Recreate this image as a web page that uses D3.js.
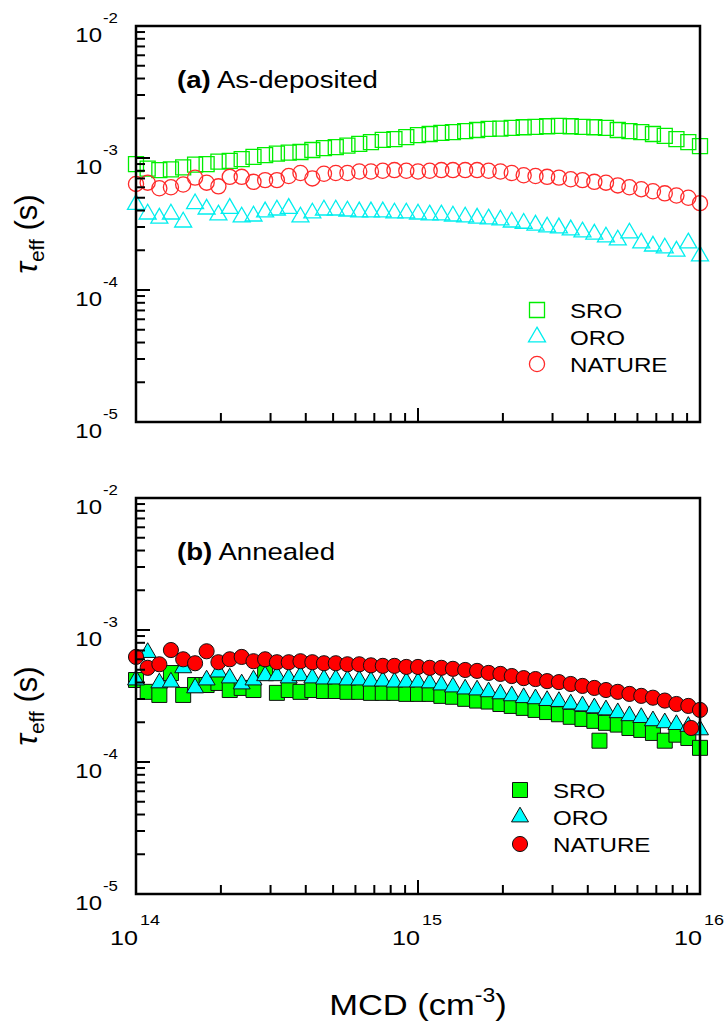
<!DOCTYPE html>
<html>
<head>
<meta charset="utf-8">
<script src="https://cdn.jsdelivr.net/npm/d3@7"></script>
<style>
  body { margin: 0; background: #fff; }
  svg { display: block; }
  text { font-family: Arial, "Liberation Sans", sans-serif; fill: #000; }
</style>
</head>
<body>
<svg id="chart" width="725" height="1025"></svg>
<script>
// τ_eff vs minority carrier density — (a) as-deposited, (b) annealed

// ── Data ────────────────────────────────────────────────────────────────────
const MCD = [
    1.00e14, 1.10e14, 1.21e14, 1.33e14, 1.47e14, 1.62e14, 1.78e14, 1.96e14, 2.15e14, 2.37e14, 2.61e14, 2.87e14,
    3.16e14, 3.48e14, 3.83e14, 4.22e14, 4.64e14, 5.11e14, 5.62e14, 6.19e14, 6.81e14, 7.50e14, 8.25e14, 9.09e14,
    1.00e15, 1.10e15, 1.21e15, 1.33e15, 1.47e15, 1.62e15, 1.78e15, 1.96e15, 2.15e15, 2.37e15, 2.61e15, 2.87e15,
    3.16e15, 3.48e15, 3.83e15, 4.22e15, 4.64e15, 5.11e15, 5.62e15, 6.19e15, 6.81e15, 7.50e15, 8.25e15, 9.09e15,
    1.00e16
];

// (a) as-deposited, seconds
const SRO_A = [
    9.0e-4, 8.3e-4, 8.1e-4, 8.2e-4, 8.5e-4, 8.9e-4, 9.0e-4, 9.4e-4, 9.5e-4, 9.8e-4,
    1.02e-3, 1.05e-3, 1.08e-3, 1.10e-3, 1.11e-3, 1.15e-3, 1.19e-3, 1.21e-3, 1.24e-3, 1.28e-3,
    1.32e-3, 1.37e-3, 1.39e-3, 1.44e-3, 1.49e-3, 1.52e-3, 1.55e-3, 1.57e-3, 1.60e-3, 1.63e-3,
    1.66e-3, 1.67e-3, 1.69e-3, 1.71e-3, 1.72e-3, 1.74e-3, 1.75e-3, 1.74e-3, 1.72e-3, 1.71e-3,
    1.69e-3, 1.63e-3, 1.60e-3, 1.57e-3, 1.52e-3, 1.47e-3, 1.39e-3, 1.32e-3, 1.23e-3
];
const ORO_A = [
    4.45e-4, 3.76e-4, 3.50e-4, 3.76e-4, 3.27e-4, 4.50e-4, 4.10e-4, 3.70e-4, 4.15e-4, 3.57e-4,
    3.63e-4, 3.90e-4, 4.03e-4, 4.15e-4, 3.57e-4, 3.83e-4, 4.03e-4, 4.03e-4, 3.96e-4, 3.90e-4,
    3.90e-4, 3.90e-4, 3.83e-4, 3.83e-4, 3.76e-4, 3.70e-4, 3.70e-4, 3.63e-4, 3.57e-4, 3.50e-4,
    3.45e-4, 3.39e-4, 3.27e-4, 3.20e-4, 3.10e-4, 3.00e-4, 2.95e-4, 2.85e-4, 2.75e-4, 2.65e-4,
    2.52e-4, 2.39e-4, 2.70e-4, 2.27e-4, 2.15e-4, 2.08e-4, 1.97e-4, 2.27e-4, 1.81e-4
];
const NATURE_A = [
    6.36e-4, 6.50e-4, 5.90e-4, 6.00e-4, 6.30e-4, 7.10e-4, 6.50e-4, 6.10e-4, 7.20e-4, 7.20e-4,
    6.60e-4, 6.80e-4, 6.80e-4, 7.30e-4, 7.70e-4, 7.00e-4, 7.60e-4, 7.70e-4, 7.70e-4, 7.90e-4,
    7.90e-4, 8.00e-4, 8.10e-4, 8.00e-4, 7.90e-4, 8.00e-4, 8.10e-4, 8.10e-4, 8.10e-4, 8.10e-4,
    8.00e-4, 7.90e-4, 7.70e-4, 7.40e-4, 7.30e-4, 7.20e-4, 7.10e-4, 6.90e-4, 6.80e-4, 6.60e-4,
    6.50e-4, 6.20e-4, 6.00e-4, 5.80e-4, 5.60e-4, 5.40e-4, 5.20e-4, 5.00e-4, 4.55e-4
];

// (b) annealed, seconds
const SRO_B = [
    4.18e-4, 3.40e-4, 3.22e-4, 4.72e-4, 3.22e-4, 3.83e-4, 3.83e-4, 3.97e-4, 3.51e-4, 3.64e-4,
    3.51e-4, 4.72e-4, 3.34e-4, 3.51e-4, 3.40e-4, 3.51e-4, 3.45e-4, 3.45e-4, 3.40e-4, 3.40e-4,
    3.34e-4, 3.34e-4, 3.34e-4, 3.28e-4, 3.28e-4, 3.28e-4, 3.17e-4, 3.12e-4, 3.01e-4, 2.92e-4,
    2.87e-4, 2.75e-4, 2.66e-4, 2.57e-4, 2.48e-4, 2.39e-4, 2.30e-4, 2.20e-4, 2.12e-4, 2.05e-4,
    1.98e-4, 1.92e-4, 1.81e-4, 1.75e-4, 1.66e-4, 1.45e-4, 1.61e-4, 1.52e-4, 1.28e-4
];
const ORO_B = [
    4.18e-4, 6.75e-4, 3.97e-4, 4.03e-4, 5.17e-4, 3.64e-4, 4.18e-4, 4.80e-4, 4.33e-4, 3.90e-4,
    4.18e-4, 4.50e-4, 4.50e-4, 4.33e-4, 4.50e-4, 4.33e-4, 4.25e-4, 4.25e-4, 4.18e-4, 4.18e-4,
    4.10e-4, 4.10e-4, 4.03e-4, 4.03e-4, 4.03e-4, 3.97e-4, 3.83e-4, 3.70e-4, 3.57e-4, 3.51e-4,
    3.40e-4, 3.28e-4, 3.17e-4, 3.07e-4, 3.01e-4, 2.92e-4, 2.87e-4, 2.75e-4, 2.66e-4, 2.57e-4,
    2.48e-4, 2.36e-4, 2.24e-4, 2.17e-4, 2.05e-4, 1.98e-4, 1.92e-4, 1.86e-4, 1.75e-4
];
const NATURE_B = [
    6.25e-4, 5.17e-4, 5.50e-4, 7.05e-4, 6.00e-4, 5.60e-4, 6.90e-4, 5.70e-4, 6.00e-4, 6.25e-4,
    5.80e-4, 6.00e-4, 5.70e-4, 5.70e-4, 5.80e-4, 5.70e-4, 5.60e-4, 5.60e-4, 5.50e-4, 5.50e-4,
    5.40e-4, 5.35e-4, 5.35e-4, 5.25e-4, 5.25e-4, 5.17e-4, 5.17e-4, 5.08e-4, 4.98e-4, 4.90e-4,
    4.73e-4, 4.65e-4, 4.48e-4, 4.32e-4, 4.25e-4, 4.10e-4, 4.03e-4, 3.90e-4, 3.77e-4, 3.64e-4,
    3.51e-4, 3.40e-4, 3.28e-4, 3.17e-4, 3.07e-4, 2.92e-4, 2.75e-4, 2.66e-4, 2.48e-4
];
// stray points off the common MCD grid
const SRO_B_EXTRA_X = [4.4e15];
const SRO_B_EXTRA = [1.45e-4];
const NATURE_B_EXTRA_X = [9.3e15];
const NATURE_B_EXTRA = [1.81e-4];

const SERIES_NAMES = ['SRO', 'ORO', 'NATURE'];
const X_TICKS = [1e14, 1e15, 1e16];
const X_TICK_EXP = ['14', '15', '16'];
const Y_TICKS = [1e-5, 1e-4, 1e-3, 1e-2];
const Y_TICK_EXP = ['-5', '-4', '-3', '-2'];

// ── Layout ──────────────────────────────────────────────────────────────────
const W = 725, H = 1025;
const LEFT = 136, RIGHT = 700;
const svg = d3.select('#chart').attr('width', W).attr('height', H);
svg.append('rect').attr('width', W).attr('height', H).attr('fill', '#fff');

const x = d3.scaleLog().domain([1e14, 1e16]).range([LEFT, RIGHT]);

const COLORS = { SRO: '#00ee00', ORO: '#00eeee', NATURE: '#ff2a2a' };
const FILLS  = { SRO: '#00ff00', ORO: '#00ffff', NATURE: '#ff0000' };
const SHAPES = { SRO: d3.symbolSquare, ORO: d3.symbolTriangle, NATURE: d3.symbolCircle };
const SIZES  = { SRO: 225, ORO: 125, NATURE: 180 };

const toPts = (xs, ys) => xs.map((v, i) => ({ mcd: v, tau: ys[i] }));

const PANELS = [
    {
        top: 26, bottom: 422, tag: '(a)', name: ' As-deposited', filled: false, xLabels: false,
        legend: { x: 537, tx: 570, y: 310 },
        series: [
            { key: 'SRO',    pts: toPts(MCD, SRO_A) },
            { key: 'ORO',    pts: toPts(MCD, ORO_A) },
            { key: 'NATURE', pts: toPts(MCD, NATURE_A) },
        ],
    },
    {
        top: 498, bottom: 894, tag: '(b)', name: ' Annealed', filled: true, xLabels: true,
        legend: { x: 520, tx: 553, y: 790 },
        series: [
            { key: 'SRO',    pts: toPts(MCD, SRO_B).concat(toPts(SRO_B_EXTRA_X, SRO_B_EXTRA)) },
            { key: 'ORO',    pts: toPts(MCD, ORO_B) },
            { key: 'NATURE', pts: toPts(MCD, NATURE_B).concat(toPts(NATURE_B_EXTRA_X, NATURE_B_EXTRA)) },
        ],
    },
];

// text stretched horizontally like the source raster
function stext(parent, tx, ty, sx) {
    return parent.append('g')
        .attr('transform', `translate(${tx},${ty}) scale(${sx},1)`)
        .append('text');
}

function minorTicks(d0, d1) {
    const out = [];
    for (let d = d0; d < d1; d++) for (let k = 2; k <= 9; k++) out.push(k * Math.pow(10, d));
    return out;
}

function styleMarker(sel, key, filled) {
    sel.attr('d', d3.symbol().type(SHAPES[key]).size(SIZES[key]))
        .attr('fill', filled ? FILLS[key] : 'none')
        .attr('stroke', filled ? '#111' : COLORS[key])
        .attr('stroke-width', filled ? 1 : 1.3);
}

PANELS.forEach(p => {
    const y = d3.scaleLog().domain([1e-5, 1e-2]).range([p.bottom, p.top]);
    const g = svg.append('g');

    // markers
    p.series.forEach(s => {
        g.append('g').selectAll('path')
            .data(s.pts)
            .join('path')
            .attr('transform', d => `translate(${x(d.mcd)},${y(d.tau)})`)
            .call(sel => styleMarker(sel, s.key, p.filled));
    });

    // ticks (inward, left + bottom only)
    const tk = g.append('g').attr('stroke', '#000').attr('stroke-width', 2);
    Y_TICKS.forEach(v => tk.append('line').attr('x1', LEFT).attr('x2', LEFT + 14).attr('y1', y(v)).attr('y2', y(v)));
    minorTicks(-5, -2).forEach(v => tk.append('line').attr('x1', LEFT).attr('x2', LEFT + 9).attr('y1', y(v)).attr('y2', y(v)));
    X_TICKS.forEach(v => tk.append('line').attr('x1', x(v)).attr('x2', x(v)).attr('y1', p.bottom).attr('y2', p.bottom - 14));
    minorTicks(14, 16).forEach(v => tk.append('line').attr('x1', x(v)).attr('x2', x(v)).attr('y1', p.bottom).attr('y2', p.bottom - 9));

    // frame
    g.append('rect')
        .attr('x', LEFT).attr('y', p.top)
        .attr('width', RIGHT - LEFT).attr('height', p.bottom - p.top)
        .attr('fill', 'none').attr('stroke', '#000').attr('stroke-width', 2.5);

    // y tick labels
    Y_TICKS.forEach((v, i) => {
        stext(g, 102, y(v) + 16, 1.2).attr('text-anchor', 'end').attr('font-size', 20).text('10');
        stext(g, 103, y(v) - 3, 1.2).attr('font-size', 14).text(Y_TICK_EXP[i]);
    });

    // x tick labels
    if (p.xLabels) {
        X_TICKS.forEach((v, i) => {
            stext(g, x(v) + 2, p.bottom + 51, 1.2).attr('text-anchor', 'end').attr('font-size', 21).text('10');
            stext(g, x(v) + 4, p.bottom + 31, 1.2).attr('font-size', 15).text(X_TICK_EXP[i]);
        });
    }

    // y title
    const yt = g.append('text')
        .attr('transform', `translate(37,${(p.top + p.bottom) / 2 + 10}) rotate(-90)`)
        .attr('text-anchor', 'middle')
        .attr('font-size', 31);
    yt.append('tspan').attr('font-style', 'italic').text('τ');
    yt.append('tspan').attr('font-size', 21).attr('dy', 7).text('eff');
    yt.append('tspan').attr('dy', -7).text(' (s)');

    // panel tag
    const pt = stext(g, 177, p.top + 62, 1.15).attr('font-size', 24);
    pt.append('tspan').attr('font-weight', 'bold').text(p.tag);
    pt.append('tspan').text(p.name);

    // legend
    const lg = g.append('g');
    SERIES_NAMES.forEach((name, i) => {
        const ly = p.legend.y + i * 27;
        lg.append('path').attr('transform', `translate(${p.legend.x},${ly})`)
            .call(sel => styleMarker(sel, name, p.filled));
        stext(lg, p.legend.tx, ly + 8, 1.15).attr('font-size', 21).text(name);
    });
});

// x title
const xt = stext(svg, (LEFT + RIGHT) / 2, 1015, 1.15).attr('text-anchor', 'middle').attr('font-size', 30);
xt.append('tspan').text('MCD (cm');
xt.append('tspan').attr('font-size', 20).attr('dy', -13).text('-3');
xt.append('tspan').attr('dy', 13).text(')');
</script>
</body>
</html>
